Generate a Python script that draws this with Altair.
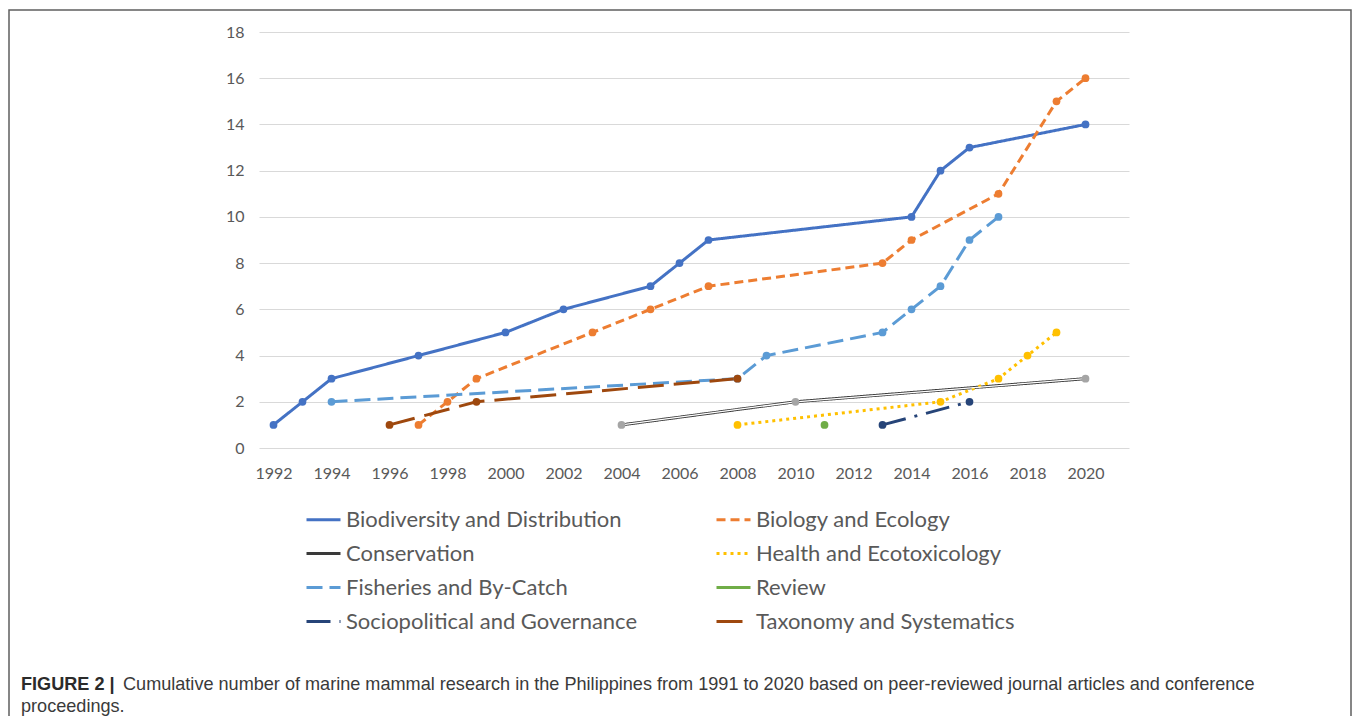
import altair as alt
import pandas as pd

# ---------------- data ----------------
SERIES = [
    "Biodiversity and Distribution",
    "Biology and Ecology",
    "Conservation",
    "Health and Ecotoxicology",
    "Fisheries and By-Catch",
    "Review",
    "Sociopolitical and Governance",
    "Taxonomy and Systematics",
]

bio_years = [1992, 1993, 1994, 1997, 2000, 2002, 2005, 2006, 2007, 2014, 2015, 2016, 2020]
bio_vals = [1, 2, 3, 4, 5, 6, 7, 8, 9, 10, 12, 13, 14]

ecol_years = [1997, 1998, 1999, 2003, 2005, 2007, 2013, 2014, 2017, 2019, 2020]
ecol_vals = [1, 2, 3, 5, 6, 7, 8, 9, 11, 15, 16]

cons_years = [2004, 2010, 2020]
cons_vals = [1, 2, 3]

health_years = [2008, 2015, 2017, 2018, 2019]
health_vals = [1, 2, 3, 4, 5]

fish_years = [1994, 2008, 2009, 2013, 2014, 2015, 2016, 2017]
fish_vals = [2, 3, 4, 5, 6, 7, 9, 10]

review_years = [2011]
review_vals = [1]

socio_years = [2013, 2016]
socio_vals = [1, 2]

tax_years = [1996, 1999, 2008]
tax_vals = [1, 2, 3]

YEAR_TICKS = list(range(1992, 2021, 2))
COUNT_TICKS = list(range(0, 19, 2))

CAPTION_BOLD = "FIGURE 2 |"
CAPTION_LINE1 = ("Cumulative number of marine mammal research in the Philippines from 1991 to 2020 "
                 "based on peer-reviewed journal articles and conference")
CAPTION_LINE2 = "proceedings."

# ---------------- styles ----------------
line_colors = ["#4472C4", "#ED7D31", "#3A3A3A", "#FFC000", "#5B9BD5", "#70AD47", "#264478", "#9E480E"]
marker_colors = ["#4472C4", "#ED7D31", "#A5A5A5", "#FFC000", "#5B9BD5", "#70AD47", "#264478", "#9E480E"]
dashes = [[1, 0], [9, 5], [1, 0], [3, 4], [16, 7], [1, 0], [24, 9, 3, 9], [26, 10]]

all_years = [bio_years, ecol_years, cons_years, health_years, fish_years, review_years, socio_years, tax_years]
all_vals = [bio_vals, ecol_vals, cons_vals, health_vals, fish_vals, review_vals, socio_vals, tax_vals]

rows = []
for name, yrs, vals, mc in zip(SERIES, all_years, all_vals, marker_colors):
    for yr, v in zip(yrs, vals):
        rows.append({"series": name, "year": yr, "count": v, "mcolor": mc})
df = pd.DataFrame(rows)

# legend fills column by column: order the domain so that rows read as in the figure
legend_order = [0, 2, 4, 6, 1, 3, 5, 7]
dom = [SERIES[i] for i in legend_order]
dom_colors = [line_colors[i] for i in legend_order]
dom_dashes = [dashes[i] for i in legend_order]

TXT = "#595959"
FONT = "Lato"

x_enc = alt.X(
    "year:Q",
    scale=alt.Scale(domain=[1991.5, 2021.5], nice=False, zero=False),
    axis=alt.Axis(values=YEAR_TICKS, format="d", title=None, grid=False, domain=False,
                  ticks=False, labelPadding=17, labelFontSize=16, labelColor=TXT,
                  labelFont=FONT, labelFlush=False),
)
y_enc = alt.Y(
    "count:Q",
    scale=alt.Scale(domain=[0, 18], nice=False),
    axis=alt.Axis(values=COUNT_TICKS, title=None, grid=True, gridColor="#D9D9D9",
                  gridWidth=1, domain=False, ticks=False, labelPadding=15,
                  labelFontSize=16, labelColor=TXT, labelFont=FONT),
)

legend = alt.Legend(
    title=None, orient="none", legendX=46, legendY=469, columns=2,
    symbolType="stroke", symbolSize=1156, symbolStrokeWidth=3,
    labelFontSize=22, labelFont=FONT, labelColor=TXT, labelOffset=4,
    columnPadding=72, rowPadding=4, padding=0, labelLimit=400,
)

lines = alt.Chart(df).mark_line(strokeWidth=3).encode(
    x=x_enc,
    y=y_enc,
    color=alt.Color("series:N", scale=alt.Scale(domain=dom, range=dom_colors), legend=legend),
    strokeDash=alt.StrokeDash("series:N", scale=alt.Scale(domain=dom, range=dom_dashes), legend=legend),
)

cons_inner = alt.Chart(df[df["series"] == "Conservation"]).mark_line(
    strokeWidth=1.3, color="white"
).encode(x=x_enc, y=y_enc)

points = alt.Chart(df).mark_circle(size=60, opacity=1).encode(
    x=x_enc, y=y_enc, color=alt.Color("mcolor:N", scale=None)
)

border = alt.Chart(pd.DataFrame({"k": [0]})).mark_rect(
    fillOpacity=0, stroke="#5F5F5F", strokeWidth=1.5
).encode(x=alt.value(-250), x2=alt.value(1092), y=alt.value(-22), y2=alt.value(720))

cap_bold = alt.Chart(pd.DataFrame({"t": [CAPTION_BOLD]})).mark_text(
    align="left", baseline="alphabetic", font="Liberation Sans", fontSize=18.1,
    fontWeight="bold", color="#2B2B2B"
).encode(text="t:N", x=alt.value(-238), y=alt.value(658))

cap_l1 = alt.Chart(pd.DataFrame({"t": [CAPTION_LINE1]})).mark_text(
    align="left", baseline="alphabetic", font="Liberation Sans", fontSize=18.1, color="#3A3A3A"
).encode(text="t:N", x=alt.value(-136), y=alt.value(658))

cap_l2 = alt.Chart(pd.DataFrame({"t": [CAPTION_LINE2]})).mark_text(
    align="left", baseline="alphabetic", font="Liberation Sans", fontSize=18.1, color="#3A3A3A"
).encode(text="t:N", x=alt.value(-238), y=alt.value(680))

chart = alt.layer(border, lines, cons_inner, points, cap_bold, cap_l1, cap_l2).properties(
    width=870,
    height=416,
    autosize=alt.AutoSizeParams(type="none"),
    padding={"left": 251, "top": 24, "right": 223, "bottom": 268},
    background="white",
).configure_view(stroke=None)

chart.save("out.html", embed_options={"renderer": "svg", "actions": False})
